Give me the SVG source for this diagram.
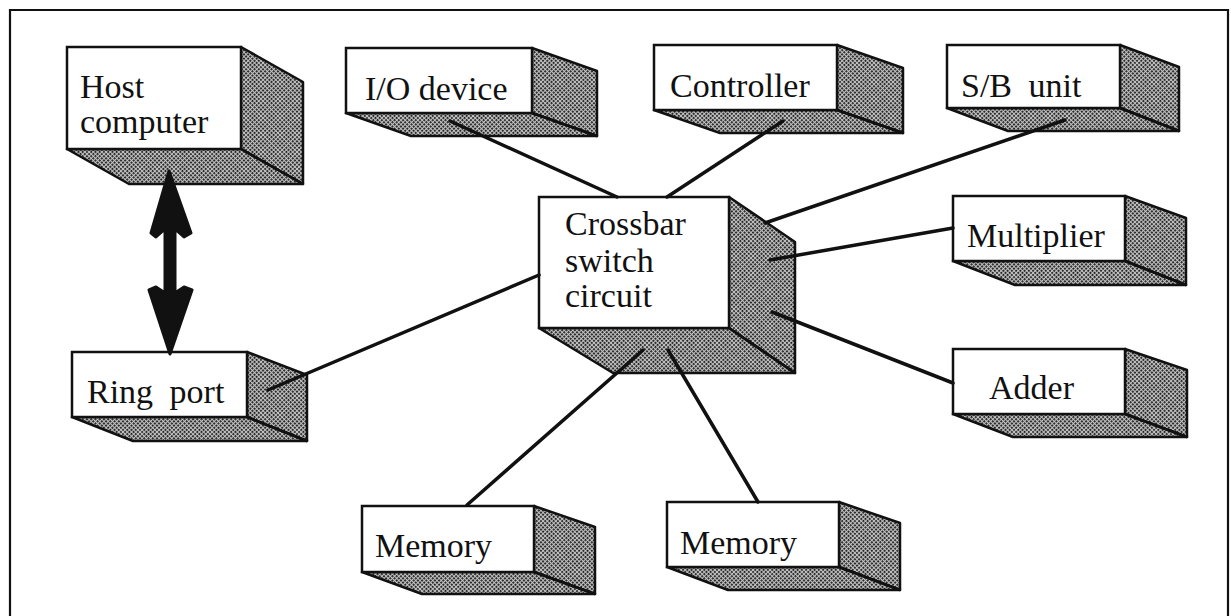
<svg xmlns="http://www.w3.org/2000/svg" width="1231" height="616" viewBox="0 0 1231 616">
  <defs>
    <!-- halftone screen used on the side and bottom faces of the blocks -->
    <pattern id="screen" width="3" height="3" patternUnits="userSpaceOnUse" patternTransform="rotate(45)">
      <rect width="3" height="3" fill="#c4c4c4"/>
      <rect width="1.9" height="1.9" fill="#1e1e1e"/>
    </pattern>
    <style>
      .face { fill: url(#screen); stroke: #111; stroke-width: 2.5; stroke-linejoin: round; }
      .edge { fill: none; stroke: #111; stroke-width: 2.5; }
      .front { fill: #fff; stroke: #111; stroke-width: 2.5; }
      .lbl { font-family: "Liberation Serif", "Times New Roman", serif; font-size: 34px; fill: #111; }
      .wide { word-spacing: 8px; }
      .wire { stroke: #111; stroke-width: 3.5; stroke-linecap: round; fill: none; }
      .frame { stroke: #111; stroke-width: 2.2; fill: none; }
    </style>
  </defs>

  <rect width="1231" height="616" fill="#fff"/>

  <!-- page frame (open at the bottom) -->
  <polyline class="frame" points="10,616 10,10 1228,10 1228,616"/>

  <!-- Host computer -->
  <g id="host">
    <polygon class="face" points="241,47 303,82 303,184 241,149"/>
    <polygon class="face" points="67,149 241,149 303,184 129,184"/>
    <line class="edge" x1="241" y1="149" x2="303" y2="184"/>
    <rect class="front" x="67" y="47" width="174" height="102"/>
    <text class="lbl" x="80" y="98">Host</text>
    <text class="lbl" x="80" y="133">computer</text>
  </g>

  <!-- I/O device -->
  <g id="io">
    <polygon class="face" points="532,48 597,71 597,136 532,113"/>
    <polygon class="face" points="346,113 532,113 597,136 411,136"/>
    <line class="edge" x1="532" y1="113" x2="597" y2="136"/>
    <rect class="front" x="346" y="48" width="186" height="65"/>
    <text class="lbl" x="365" y="100">I/O device</text>
  </g>

  <!-- Controller -->
  <g id="controller">
    <polygon class="face" points="837,45 903,68 903,133 837,110"/>
    <polygon class="face" points="654,110 837,110 903,133 720,133"/>
    <line class="edge" x1="837" y1="110" x2="903" y2="133"/>
    <rect class="front" x="654" y="45" width="183" height="65"/>
    <text class="lbl" x="670" y="97">Controller</text>
  </g>

  <!-- S/B unit -->
  <g id="sb">
    <polygon class="face" points="1120,45 1179,67 1179,131 1120,108"/>
    <polygon class="face" points="947,108 1120,108 1179,131 1008,131"/>
    <line class="edge" x1="1120" y1="108" x2="1179" y2="131"/>
    <rect class="front" x="947" y="45" width="173" height="63"/>
    <text class="lbl wide" x="961" y="97">S/B unit</text>
  </g>

  <!-- Crossbar switch circuit -->
  <g id="crossbar">
    <polygon class="face" points="729,197 795,242 795,373 729,328"/>
    <polygon class="face" points="539,328 729,328 795,373 613,373"/>
    <line class="edge" x1="729" y1="328" x2="795" y2="373"/>
    <rect class="front" x="539" y="197" width="190" height="131"/>
    <text class="lbl" x="565" y="235">Crossbar</text>
    <text class="lbl" x="565" y="272">switch</text>
    <text class="lbl" x="565" y="307">circuit</text>
  </g>

  <!-- Multiplier -->
  <g id="multiplier">
    <polygon class="face" points="1125,196 1186,218 1186,285 1125,261"/>
    <polygon class="face" points="953,261 1125,261 1186,285 1015,285"/>
    <line class="edge" x1="1125" y1="261" x2="1186" y2="285"/>
    <rect class="front" x="953" y="196" width="172" height="65"/>
    <text class="lbl" x="967" y="247">Multiplier</text>
  </g>

  <!-- Adder -->
  <g id="adder">
    <polygon class="face" points="1125,349 1187,370 1187,437 1125,414"/>
    <polygon class="face" points="953,414 1125,414 1187,437 1013,437"/>
    <line class="edge" x1="1125" y1="414" x2="1187" y2="437"/>
    <rect class="front" x="953" y="349" width="172" height="65"/>
    <text class="lbl" x="989" y="399">Adder</text>
  </g>

  <!-- Ring port -->
  <g id="ringport">
    <polygon class="face" points="247,352 307,375 307,441 247,417"/>
    <polygon class="face" points="72,417 247,417 307,441 133,441"/>
    <line class="edge" x1="247" y1="417" x2="307" y2="441"/>
    <rect class="front" x="72" y="352" width="175" height="65"/>
    <text class="lbl wide" x="87" y="403">Ring port</text>
  </g>

  <!-- Memory (left) -->
  <g id="memory1">
    <polygon class="face" points="534,506 595,527 595,594 534,572"/>
    <polygon class="face" points="362,572 534,572 595,594 422,594"/>
    <line class="edge" x1="534" y1="572" x2="595" y2="594"/>
    <rect class="front" x="362" y="506" width="172" height="66"/>
    <text class="lbl" x="375" y="557">Memory</text>
  </g>

  <!-- Memory (right) -->
  <g id="memory2">
    <polygon class="face" points="839,502 900,523 900,590 839,567"/>
    <polygon class="face" points="667,567 839,567 900,590 728,590"/>
    <line class="edge" x1="839" y1="567" x2="900" y2="590"/>
    <rect class="front" x="667" y="502" width="172" height="65"/>
    <text class="lbl" x="680" y="554">Memory</text>
  </g>

  <!-- links between the crossbar and the units -->
  <g id="connectors">
    <line class="wire" x1="450" y1="121" x2="617" y2="197"/>
    <line class="wire" x1="783" y1="121" x2="667" y2="197"/>
    <line class="wire" x1="1065" y1="120" x2="765" y2="223"/>
    <line class="wire" x1="770" y1="260" x2="953" y2="228"/>
    <line class="wire" x1="772" y1="312" x2="953" y2="383"/>
    <line class="wire" x1="268" y1="390" x2="539" y2="275"/>
    <line class="wire" x1="643" y1="350" x2="467" y2="505"/>
    <line class="wire" x1="668" y1="350" x2="758" y2="502"/>
    <!-- bidirectional link host <-> ring port -->
    <polygon points="169,171 191,233 184,237 175,229 175,293 184,287 192,290 170,354 149,290 156,287 165,293 165,229 156,237 151,233"
             fill="#111" stroke="#111" stroke-width="3" stroke-linejoin="round"/>
  </g>
</svg>
